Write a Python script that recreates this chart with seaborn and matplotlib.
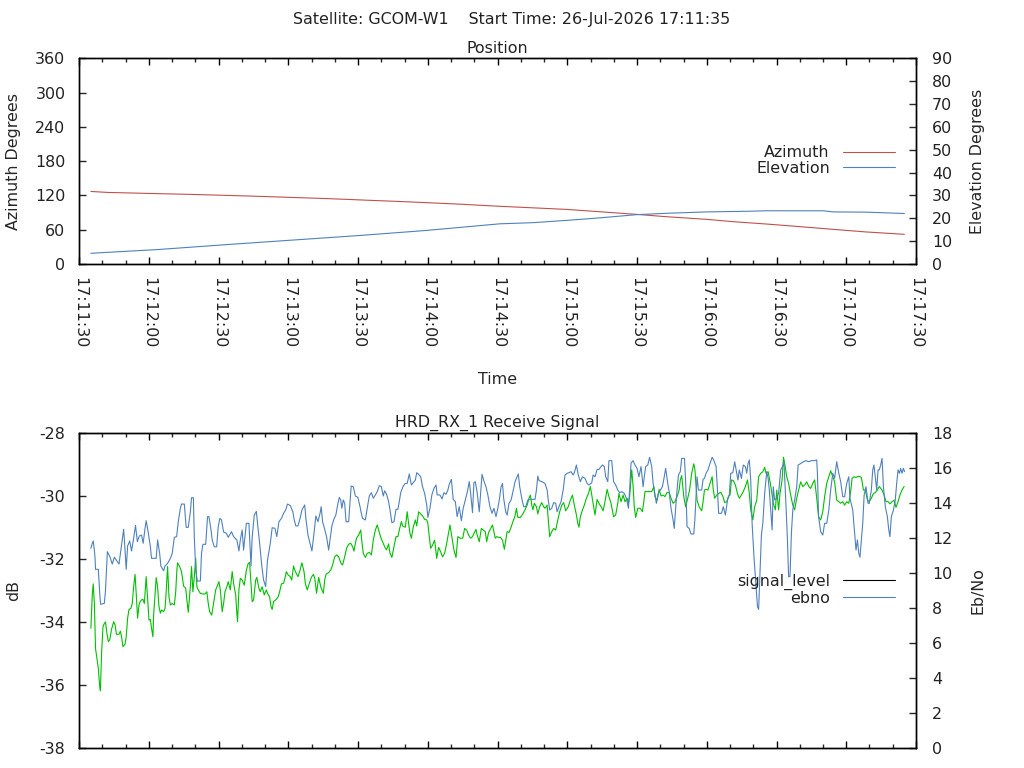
import pandas as pd
import matplotlib
matplotlib.use("Agg")
import matplotlib.pyplot as plt
import matplotlib.dates as mdates
from matplotlib.lines import Line2D
import seaborn as sns

# ---------------- data (seconds after 17:11:30) ----------------
az_sec = [5.0, 12.2, 30.4, 48.6, 64.4, 78.5, 91.7, 104.6, 115.5, 126.2,
          136.8, 147.3, 156.6, 165.5, 173.5, 181.7, 209.7, 224.0, 239.8, 252.7,
          269.9, 281.4, 295.7, 310.1, 324.4, 338.7, 355.0]
azimuth = [127.0, 125.3, 123.5, 121.8, 120.0, 118.3, 116.5, 114.8, 113.1, 111.3,
           109.6, 107.8, 106.1, 104.4, 102.6, 100.9, 95.6, 91.5, 86.9, 82.8,
           78.2, 74.1, 70.0, 65.4, 60.7, 56.1, 52.0]

el_sec = [5.0, 34.7, 63.4, 92.1, 120.8, 149.4, 181.0, 195.3, 209.7, 224.0,
          239.8, 252.7, 269.9, 288.6, 295.7, 320.1, 324.4, 338.7, 355.0]
elevation = [4.7, 6.4, 8.5, 10.5, 12.5, 14.7, 17.6, 18.1, 19.1, 20.2,
             21.6, 22.2, 22.8, 23.1, 23.3, 23.3, 22.8, 22.7, 22.1]

sig_sec = [
    5.0, 5.6, 6.0, 6.5, 7.0, 7.6, 8.2, 8.8, 9.1, 9.6,
    10.2, 10.8, 11.3, 11.9, 12.5, 13.1, 13.9, 14.8, 15.4, 16.0,
    17.1, 17.7, 18.2, 18.8, 19.7, 20.2, 20.8, 21.4, 22.2, 22.8,
    23.4, 24.0, 24.5, 25.1, 25.7, 26.2, 26.8, 27.4, 28.0, 28.5,
    28.8, 29.4, 30.0, 30.6, 31.1, 31.7, 32.0, 32.6, 33.1, 33.7,
    34.3, 34.9, 35.4, 36.3, 36.9, 37.4, 38.0, 38.6, 39.2, 40.0,
    40.9, 41.5, 42.0, 42.3, 43.2, 44.0, 44.9, 45.8, 46.3, 46.9,
    47.8, 48.3, 48.9, 49.5, 50.1, 50.6, 51.2, 52.1, 53.2, 54.1,
    54.9, 55.5, 56.1, 57.0, 57.8, 58.7, 59.5, 60.1, 60.7, 61.5,
    62.1, 62.7, 63.5, 64.1, 65.0, 65.8, 66.4, 67.3, 67.8, 68.1,
    68.7, 69.3, 70.1, 71.0, 71.9, 72.7, 73.3, 73.9, 74.4, 75.0,
    75.9, 76.4, 77.3, 77.9, 78.7, 79.6, 80.5, 81.0, 81.9, 82.5,
    83.0, 83.6, 84.5, 85.6, 86.2, 87.0, 87.9, 88.5, 89.1, 89.9,
    90.8, 91.4, 92.2, 92.5,
    93.0, 94.1, 95.0, 95.8, 96.7, 97.3, 98.1, 99.0, 99.8, 100.7,
    101.3, 102.1, 103.0, 103.9, 105.0, 105.6, 106.2, 107.3, 108.2, 109.0,
    109.9, 110.7, 111.6, 112.5, 113.3, 114.2, 115.0, 115.9, 116.8, 117.6,
    118.2, 118.8, 119.3, 120.2, 121.1, 121.6, 122.2, 123.1, 123.9, 124.8,
    125.7, 126.5, 127.4, 128.2, 128.8, 129.7, 130.5, 131.4, 132.2, 133.1,
    133.7, 134.5, 135.4, 136.3, 137.1, 137.7, 138.6, 139.1, 140.3, 141.1,
    141.7, 142.3, 142.9, 143.7, 144.6, 145.2, 146.0, 146.9, 147.7, 148.6,
    149.5, 150.0, 150.6, 151.2, 152.0, 152.9, 153.8, 154.6, 155.5, 156.3,
    157.2, 158.1, 158.6, 159.5, 160.3, 161.2, 162.1, 162.9, 163.8, 165.0,
    165.8, 166.7, 167.5, 168.4, 169.2, 169.8, 170.7, 171.2, 172.1, 173.0,
    173.8, 174.7, 175.3, 176.1, 177.0, 177.8, 178.4, 179.0, 179.6, 180.7,
    181.2, 182.1, 182.9, 183.5, 184.1, 184.9, 185.8, 186.6, 187.5, 188.1,
    188.7, 189.8, 191.0, 191.8, 192.7, 193.5, 194.1, 194.7, 195.2, 195.8,
    196.7, 197.3, 198.1, 199.0, 199.8, 200.4, 201.3, 201.8, 202.4, 203.3,
    204.1, 205.0, 205.9, 206.7, 207.6, 208.4, 209.3, 210.4, 211.3, 212.2,
    213.0, 213.9, 214.5, 215.0, 215.6, 216.5, 217.3, 218.2, 219.1, 219.9,
    220.8, 221.9, 222.8, 223.6, 224.5, 225.4, 226.2, 227.1, 227.9, 228.8,
    229.9, 230.8, 231.7, 232.2, 233.1, 234.0, 234.8, 235.7, 236.3, 236.8,
    237.7, 238.3, 238.8, 239.4, 240.3, 241.4, 242.3, 242.9, 243.4, 244.9,
    246.3, 247.2, 247.7, 248.6, 249.5, 250.3, 251.2, 252.0, 252.9, 253.8,
    254.6, 255.5, 256.3, 257.2, 258.1, 258.6, 259.2, 260.1, 260.9, 261.8,
    262.6, 263.5, 264.4, 264.9, 265.8, 266.7, 267.8, 268.4, 269.0,
    269.7, 270.5, 271.4, 272.3, 272.8, 273.4, 274.3, 275.1, 276.0, 276.9,
    277.7, 278.6, 279.4, 280.0, 280.6, 281.4, 282.3, 283.2, 284.0, 284.9,
    285.7, 286.6, 287.5, 288.3, 288.9, 289.8, 290.6, 291.5, 292.3, 293.2,
    294.1, 294.9, 295.5, 296.4, 297.2, 297.8, 298.6, 299.5, 300.1, 300.9,
    301.5, 302.4, 303.0, 303.5, 304.4, 305.2, 306.1, 307.0, 307.8, 308.7,
    309.5, 310.4, 311.3, 312.1, 313.0, 313.9, 314.7, 315.6, 316.4, 317.3,
    318.1, 319.0, 319.9, 320.7, 321.6, 322.5, 323.3, 324.2, 325.0, 325.9,
    326.8, 327.6, 328.5, 329.3, 330.2, 331.1, 331.9, 332.5, 333.4, 334.2,
    335.4, 336.5, 337.4, 338.2, 339.1, 339.9, 340.8, 341.7, 342.5, 343.4,
    344.2, 345.4, 346.3, 347.1, 348.0, 348.8, 349.7, 350.6, 351.4, 352.3,
    353.1, 354.0, 354.9,
]
signal_level = [
    -34.20, -33.14, -32.79, -33.41, -34.84, -35.15, -35.47, -36.05, -36.18, -34.99,
    -34.15, -34.04, -34.00, -34.36, -34.62, -34.57, -34.23, -33.99, -34.09, -34.39,
    -34.39, -34.29, -34.47, -34.78, -34.70, -34.47, -33.88, -33.60, -33.57, -33.41,
    -32.88, -32.49, -33.09, -33.88, -33.46, -33.35, -33.30, -33.28, -33.41, -32.88,
    -32.56, -33.25, -33.94, -33.92, -34.20, -34.47, -33.78, -33.14, -32.59, -32.88,
    -33.51, -33.72, -33.62, -33.67, -33.57, -33.04, -32.24, -33.20, -33.46, -33.41,
    -33.46, -33.04, -32.35, -32.12, -32.24, -32.40, -32.86, -32.93, -33.30, -33.69,
    -32.88, -32.24, -33.04, -32.56, -31.98, -32.88, -32.98, -33.09, -33.11, -33.11,
    -33.04, -33.41, -33.67, -33.78, -33.41, -32.98, -32.83, -32.72, -32.98, -33.67,
    -33.41, -33.04, -32.88, -32.72, -32.98, -32.40, -32.77, -33.14, -33.72, -33.99,
    -32.98, -32.61, -32.67, -32.83, -32.35, -32.14, -32.11, -32.77, -33.35, -33.30,
    -32.67, -32.58, -32.93, -33.04, -32.88, -33.14, -32.98, -33.09, -33.20, -33.51,
    -33.60, -33.35, -33.30, -33.20, -33.04, -32.79, -32.77, -32.61, -32.40, -32.51,
    -32.56, -32.67, -32.22, -32.30,
    -32.40, -32.56, -32.35, -32.12, -32.40, -32.79, -32.98, -32.77, -32.59, -32.49,
    -32.59, -33.09, -32.58, -32.88, -33.09, -32.67, -32.48, -32.43, -32.35, -32.19,
    -31.93, -31.87, -31.93, -32.12, -32.19, -31.93, -31.66, -31.53, -31.50, -31.61,
    -31.75, -31.50, -31.34, -31.24, -31.08, -31.45, -31.82, -31.95, -31.82, -31.79,
    -31.87, -31.40, -31.08, -30.92, -31.08, -31.31, -31.45, -31.61, -31.71, -31.52,
    -31.82, -31.95, -31.61, -31.29, -31.29, -31.08, -30.81, -30.95, -30.99, -30.50,
    -30.87, -31.19, -31.34, -30.99, -30.76, -30.95, -30.50, -30.57, -30.63, -30.74,
    -30.76, -30.87, -31.29, -31.66, -31.56, -31.40, -31.98, -31.63, -31.77, -31.93,
    -31.82, -31.50, -31.29, -30.92, -31.29, -31.71, -31.95, -31.29, -31.34, -31.34,
    -31.03, -31.08, -31.24, -31.34, -31.29, -31.19, -31.06, -31.24, -31.45, -31.03,
    -31.08, -31.13, -31.45, -31.16, -31.03, -30.92, -31.13, -31.34, -31.29, -31.32,
    -31.31, -31.40, -31.69, -31.40, -31.13, -31.16, -30.99, -30.81, -30.63, -30.39,
    -30.68, -30.68, -30.55, -30.44, -30.29, -30.07, -29.97, -30.29, -30.44, -30.23,
    -30.34, -30.57, -30.34, -30.21, -30.34, -30.39, -30.29, -30.76, -31.29, -31.13,
    -31.03, -31.08, -30.76, -30.50, -30.29, -30.21, -30.47, -30.34, -30.13, -29.97,
    -30.29, -30.60, -30.87, -30.99, -30.66, -30.44, -30.29, -30.07, -29.92, -29.70,
    -30.11, -30.60, -30.11, -30.23, -30.34, -30.47, -30.18, -29.79, -30.02, -30.23,
    -30.66, -30.60, -30.23, -29.92, -30.18, -29.97, -30.18, -30.07, -30.23, -30.02,
    -29.17, -29.70, -30.34, -30.68, -30.39, -30.39, -30.50, -30.18, -29.86, -29.86,
    -29.86, -29.70, -30.02, -30.13, -29.79, -30.00, -29.97, -30.02, -29.89, -29.89,
    -30.07, -30.23, -30.18, -30.02, -29.81, -29.49, -29.35, -30.02, -30.34, -30.07,
    -29.81, -29.28, -28.98, -29.17, -30.13, -30.34, -30.47, -30.18, -29.81,
    -29.79, -29.81, -29.60, -29.39, -29.81, -30.07, -29.97, -29.92, -29.88, -30.00,
    -30.21, -30.18, -30.00, -29.97, -29.49, -29.51, -29.65, -29.92, -30.07, -29.97,
    -29.86, -29.70, -29.49, -29.92, -30.44, -30.76, -30.34, -30.13, -29.39, -29.28,
    -29.23, -29.09, -29.28, -29.23, -29.54, -29.81, -30.23, -30.44, -29.81, -30.44,
    -29.92, -29.49, -28.77, -28.96, -29.39, -29.60, -29.97, -30.29, -30.44, -30.07,
    -29.81, -29.55, -29.70, -29.65, -29.55, -29.70, -29.76, -29.60, -29.49, -30.07,
    -30.66, -30.76, -30.50, -30.02, -29.60, -29.39, -29.20, -29.39, -29.55, -30.13,
    -30.18, -30.23, -30.18, -30.29, -30.18, -30.23, -29.86, -29.44, -29.39, -29.41,
    -29.37, -29.41, -29.81, -29.81, -30.13, -30.18, -30.07, -29.92, -29.89, -29.81,
    -29.70, -29.81, -29.97, -30.18, -30.18, -30.25, -30.18, -30.13, -30.36, -30.18,
    -29.97, -29.81, -29.70,
]

ebno_sec = [
    5.0, 5.6, 6.0, 6.5, 6.8, 7.0, 8.2, 8.9, 9.2, 10.8,
    11.3, 12.1, 13.2, 14.2, 15.1, 16.1, 17.1, 17.9, 18.5, 19.1,
    19.7, 20.2, 20.8, 21.7, 22.5, 23.4, 24.2, 25.0, 25.8, 26.8,
    27.5, 28.3, 28.8, 29.7, 30.6, 31.1, 33.1, 33.7, 34.6, 35.1,
    36.3, 36.9, 38.0, 39.2, 40.0, 40.9, 41.9, 42.6, 43.5, 44.0,
    45.2, 46.0, 46.9, 47.8, 48.3, 49.1, 49.5, 50.1, 50.8, 52.1,
    52.6, 53.2, 54.4, 55.2, 55.8, 56.7, 57.2, 58.1, 59.1, 59.8,
    60.5, 61.2, 62.1, 63.3, 64.1, 65.5, 66.4, 67.8, 68.7, 69.3,
    70.1, 70.7, 71.9, 73.0, 73.9, 74.4, 75.3, 76.2, 76.7, 77.6,
    78.5, 79.3, 80.2, 81.0, 82.2, 83.0, 84.2, 85.0, 85.9, 87.0,
    87.9, 88.8, 89.6, 90.8, 91.9, 92.5,
    93.2, 94.1, 95.0, 95.8, 97.0, 97.5, 98.4, 99.3, 100.1, 101.0,
    101.8, 102.7, 103.6, 104.1, 104.7, 105.6, 106.4, 107.3, 107.9, 108.7,
    109.6, 110.4, 111.3, 111.9, 112.5, 113.0, 113.6, 114.2, 114.8, 115.9,
    116.5, 117.0, 117.9, 118.8, 119.9, 120.8, 121.3, 121.9, 123.1, 123.9,
    124.8, 125.7, 126.5, 127.4, 128.2, 129.1, 130.0, 130.8, 131.4, 132.2,
    133.1, 133.7, 134.5, 135.4, 136.3, 137.1, 137.7, 138.3, 139.4, 140.3,
    141.1, 142.0, 142.9, 143.7, 144.6, 145.2, 146.0, 146.9, 147.7, 148.6,
    149.5, 150.0, 150.9, 151.7, 152.6, 153.5, 154.0, 155.2, 156.1, 156.9,
    157.8, 158.6, 159.2, 160.1, 160.9, 161.8, 162.6, 163.5, 164.4, 165.2,
    166.1, 167.0, 167.8, 168.4, 169.2, 169.8, 170.4, 171.2, 172.1, 172.7,
    173.3, 174.1, 175.0, 175.8, 176.7, 177.6, 178.4, 179.3, 180.1, 180.7,
    181.5, 182.1, 182.6, 183.5, 184.1, 184.9, 185.8, 186.6, 187.5, 188.4,
    188.9, 189.5, 190.4, 191.2, 192.1, 193.0, 193.8, 196.1, 196.7, 197.3,
    197.8, 199.0, 200.4, 201.3, 201.8, 202.4, 203.3, 204.1, 205.0, 205.6,
    206.4, 207.3, 208.2, 209.0, 209.9, 210.7, 211.6, 212.5, 213.0, 213.9,
    214.7, 215.6, 216.5, 217.6, 218.5, 219.3, 220.5, 221.1, 221.9, 222.8,
    223.6, 224.5, 225.1, 225.9, 226.5, 227.4, 227.9, 229.1, 229.9, 230.8,
    231.7, 232.5, 233.4, 234.5, 235.4, 236.3, 236.8, 237.4, 238.3, 239.1,
    240.0, 240.8, 241.7, 242.6, 243.1, 243.7, 244.6, 245.4, 246.3, 246.9,
    247.4, 248.3, 249.2, 250.0, 250.9, 251.7, 252.3, 253.2, 253.8, 254.6,
    255.5, 256.0, 256.6, 257.2, 257.8, 258.6, 259.2, 260.4, 260.9, 261.5,
    262.4, 263.2, 264.4, 264.9, 265.8, 266.4, 267.8, 268.4, 269.0,
    269.7, 270.5, 271.4, 272.3, 273.1, 274.0, 274.6, 275.1, 276.3, 277.1,
    278.0, 278.9, 279.7, 280.3, 281.2, 282.0, 282.6, 283.4, 284.0, 284.9,
    285.7, 286.6, 287.2, 287.7, 288.3, 288.9, 289.5, 290.3, 291.2, 291.8,
    292.3, 292.9, 293.5, 294.1, 294.9, 295.8, 296.4, 296.9, 297.5, 298.1,
    298.6, 299.2, 300.1, 300.9, 301.8, 302.7, 303.2, 304.1, 304.7, 305.2,
    305.8, 306.4, 307.0, 307.8, 308.7, 309.3, 310.1, 311.6, 312.7, 313.8,
    315.0, 316.4, 317.3, 317.6, 318.1, 319.0, 319.9, 320.7, 321.6, 322.5,
    323.3, 324.2, 325.0, 325.9, 326.8, 327.6, 328.5, 329.3, 330.2, 331.1,
    331.6, 332.8, 333.6, 334.2, 334.8, 335.4, 335.9, 336.5, 337.1, 337.7,
    338.5, 339.4, 339.9, 340.8, 341.4, 341.9, 342.5, 343.1, 343.7, 344.2,
    344.8, 345.4, 346.0, 346.8, 347.7, 348.3, 348.8, 349.4, 350.3, 351.1,
    351.7, 352.3, 352.9, 353.4, 354.0, 354.6, 355.1,
]
ebno = [
    11.41, 11.70, 11.83, 11.31, 10.84, 10.21, 10.21, 8.65, 8.21, 8.27,
    9.03, 11.22, 10.93, 10.51, 10.90, 10.70, 10.51, 11.31, 11.89, 12.50,
    11.31, 10.21, 11.54, 11.83, 11.26, 11.98, 12.72, 11.79, 12.11, 12.17,
    11.70, 12.55, 12.99, 12.30, 11.50, 10.84, 10.84, 11.89, 11.12, 10.40,
    10.13, 10.40, 10.55, 10.84, 11.12, 12.04, 12.08, 12.93, 13.70, 13.94,
    13.94, 12.61, 12.61, 13.50, 14.30, 14.30, 12.08, 10.17, 9.54, 9.54,
    11.12, 11.64, 11.64, 13.22, 13.22, 12.46, 11.89, 11.50, 11.50, 12.65,
    13.12, 13.03, 12.34, 12.27, 12.04, 12.36, 12.08, 11.89, 11.26, 11.89,
    12.46, 11.31, 12.84, 12.84, 10.40, 12.04, 13.31, 13.52, 12.84, 11.70,
    10.46, 9.60, 9.22, 10.74, 11.70, 12.59, 12.55, 12.08, 12.93, 13.12,
    13.41, 13.60, 13.94, 13.85, 13.50, 13.03,
    12.69, 12.69, 13.12, 13.60, 13.89, 13.12, 12.17, 11.70, 11.26, 12.27,
    13.26, 12.93, 13.41, 13.79, 12.93, 12.50, 12.08, 11.31, 11.89, 12.69,
    13.09, 13.31, 13.98, 14.32, 14.17, 13.70, 14.17, 13.98, 12.93, 12.93,
    14.08, 14.97, 14.93, 14.40, 14.32, 13.79, 13.45, 13.12, 13.03, 13.70,
    14.40, 14.59, 14.27, 14.46, 14.65, 14.99, 14.93, 14.40, 14.70, 14.51,
    14.08, 13.60, 12.88, 12.93, 13.64, 13.64, 14.08, 14.59, 14.97, 15.12,
    15.12, 15.66, 15.03, 15.16, 15.31, 15.73, 15.64, 15.50, 14.93, 14.55,
    13.89, 13.18, 13.70, 14.46, 14.84, 15.03, 14.46, 14.46, 14.23, 14.59,
    14.50, 14.74, 15.07, 15.35, 14.21, 14.08, 13.22, 13.79, 12.99, 13.70,
    14.17, 14.65, 15.22, 14.55, 13.45, 15.16, 15.22, 14.59, 13.50, 14.55,
    15.64, 15.26, 14.93, 14.46, 13.79, 13.41, 13.70, 13.22, 13.70, 14.17,
    14.93, 15.12, 14.27, 13.50, 13.31, 13.98, 14.17, 14.65, 15.22, 15.50,
    15.66, 14.93, 14.27, 13.79, 13.79, 14.17, 14.21, 14.21, 14.74, 15.54,
    15.28, 15.22, 15.12, 14.74, 14.17, 13.60, 13.70, 14.02, 13.98, 13.50,
    13.79, 14.08, 14.74, 15.60, 15.70, 15.73, 15.79, 15.60, 15.73, 16.17,
    15.60, 15.22, 15.50, 15.41, 15.12, 15.03, 15.16, 15.60, 15.50, 15.92,
    15.92, 16.08, 16.17, 16.08, 15.50, 15.22, 16.42, 16.42, 15.22, 15.03,
    14.74, 14.59, 14.65, 14.55, 14.27, 13.70, 14.74, 16.27, 16.42, 16.17,
    15.98, 15.50, 16.08, 14.93, 15.50, 16.08, 16.17, 16.61, 16.08, 15.12,
    14.74, 13.98, 14.55, 14.74, 14.93, 15.50, 15.98, 15.12, 14.65, 13.70,
    13.03, 12.55, 13.70, 14.74, 15.60, 15.79, 16.55, 16.55, 15.22, 12.65,
    12.55, 12.23, 12.23, 13.12, 15.50, 14.74, 14.74, 15.35, 15.41,
    15.70, 15.89, 16.27, 16.61, 16.42, 16.08, 14.74, 13.41, 13.41, 13.79,
    13.31, 14.17, 14.46, 15.70, 15.73, 16.36, 15.92, 15.31, 15.89, 15.41,
    16.17, 16.08, 15.70, 16.23, 16.46, 15.31, 12.84, 10.93, 9.22, 8.08,
    7.92, 9.98, 12.17, 12.84, 14.55, 15.79, 15.41, 14.74, 13.60, 12.46,
    14.93, 14.17, 14.27, 14.55, 15.89, 16.11, 16.36, 13.79, 11.89, 9.79,
    9.79, 12.27, 13.60, 14.17, 14.93, 16.17, 16.23, 16.36, 16.42, 16.36,
    16.42, 16.42, 16.46, 15.70, 13.22, 12.36, 12.17, 12.84, 12.84, 13.60,
    14.74, 15.70, 15.41, 16.36, 15.70, 15.22, 14.36, 14.36, 15.12, 15.50,
    14.27, 13.60, 12.27, 11.31, 11.89, 11.12, 10.90, 11.89, 12.84, 14.46,
    14.93, 13.98, 13.98, 14.74, 15.89, 16.17, 15.50, 14.74, 15.89, 15.89,
    16.17, 16.55, 14.93, 13.79, 13.22, 12.46, 12.08, 13.22, 13.60, 14.17,
    15.12, 15.89, 15.70, 15.98, 15.70, 15.98, 15.79,
]

RED = "#c0504d"
BLUE = "#4f81bd"
GREEN = "#00c000"

# ---------------- style ----------------
sns.set_style("white")
plt.rcParams["font.family"] = ["DejaVu Sans"]
plt.rcParams["font.size"] = 11.4
plt.rcParams["axes.unicode_minus"] = False
plt.rcParams["axes.linewidth"] = 1.0
plt.rcParams["axes.edgecolor"] = "black"
plt.rcParams["text.color"] = "#222222"

t0 = pd.Timestamp("2026-07-26 17:11:30")


def to_time(sec):
    return t0 + pd.to_timedelta(pd.Series(sec, dtype=float), unit="s")


pos_az = pd.DataFrame({"time": to_time(az_sec), "value": azimuth})
pos_el = pd.DataFrame({"time": to_time(el_sec), "value": elevation})
rx_sig = pd.DataFrame({"time": to_time(sig_sec), "value": signal_level})
rx_ebno = pd.DataFrame({"time": to_time(ebno_sec), "value": ebno})

fig = plt.figure(figsize=(10.24, 7.68), dpi=100)
ax1 = fig.add_axes([0.0774, 0.6562, 0.8171, 0.2679])
ax1b = ax1.twinx()
ax2 = fig.add_axes([0.0774, 0.026, 0.8171, 0.4102])
ax2b = ax2.twinx()

lw = 0.8
sns.lineplot(data=pos_az, x="time", y="value", ax=ax1, color=RED, lw=lw, estimator=None)
sns.lineplot(data=pos_el, x="time", y="value", ax=ax1b, color=BLUE, lw=lw, estimator=None)
sns.lineplot(data=rx_sig, x="time", y="value", ax=ax2, color=GREEN, lw=lw, estimator=None)
sns.lineplot(data=rx_ebno, x="time", y="value", ax=ax2b, color=BLUE, lw=lw, estimator=None)

xmin, xmax = t0, t0 + pd.Timedelta(seconds=360)
for ax in (ax1, ax2):
    ax.set_xlim(xmin, xmax)
    ax.xaxis.set_major_locator(mdates.SecondLocator(bysecond=[0, 30]))
    ax.xaxis.set_minor_locator(mdates.SecondLocator(bysecond=[0, 10, 20, 30, 40, 50]))
    ax.xaxis.set_major_formatter(mdates.DateFormatter("%H:%M:%S"))
    ax.tick_params(axis="x", which="major", direction="in", length=4.8, width=1,
                   top=True, bottom=True, colors="black", labelcolor="#222222")
    ax.tick_params(axis="x", which="minor", direction="in", length=3.0, width=1,
                   top=True, bottom=True)
    ax.tick_params(axis="y", which="both", direction="in", length=5, width=1,
                   left=True, right=False, pad=10, labelcolor="#222222")
for ax in (ax1b, ax2b):
    ax.tick_params(axis="y", which="both", direction="in", length=5, width=1,
                   left=False, right=True, pad=11.5, labelcolor="#222222")

ax1.tick_params(axis="x", labelrotation=270, pad=9)
ax2.tick_params(axis="x", labelbottom=False)

ax1.set_ylim(0, 360)
ax1.set_yticks(range(0, 361, 60))
ax1b.set_ylim(0, 90)
ax1b.set_yticks(range(0, 91, 10))
ax2.set_ylim(-38, -28)
ax2.set_yticks(range(-38, -27, 2))
ax2b.set_ylim(0, 18)
ax2b.set_yticks(range(0, 19, 2))

# labels
ax1.set_xlabel("Time", va="center")
ax1.xaxis.set_label_coords(0.5, -0.559)
ax1.set_ylabel("Azimuth Degrees", va="center")
ax1.yaxis.set_label_coords(-0.078, 0.497)
ax1b.set_ylabel("Elevation Degrees", va="center", rotation=90)
ax1b.yaxis.set_label_coords(1.074, 0.5)
ax2.set_xlabel("")
ax2.set_ylabel("dB", va="center")
ax2.yaxis.set_label_coords(-0.078, 0.5)
ax2b.set_ylabel("Eb/No", va="center", rotation=90)
ax2b.yaxis.set_label_coords(1.074, 0.5)

ax1.set_title("Position", pad=3.6, fontsize=11.4)
ax2.set_title("HRD_RX_1 Receive Signal", pad=4.6, fontsize=11.4)
fig.text(0.5, 1 - 24 / 768, "Satellite: GCOM-W1    Start Time: 26-Jul-2026 17:11:35",
         ha="center", va="baseline")

# legends (text first, sample line after)
leg_kw = dict(loc="center right", bbox_to_anchor=(0.975, 0.503), frameon=False,
              markerfirst=False, handlelength=3.3, handletextpad=0.82,
              labelspacing=0.05, borderpad=0, borderaxespad=0)
ax1b.legend([Line2D([], [], color=RED, lw=lw), Line2D([], [], color=BLUE, lw=lw)],
            ["Azimuth", "Elevation"], **leg_kw)
ax2b.legend([Line2D([], [], color="black", lw=lw), Line2D([], [], color=BLUE, lw=lw)],
            ["signal_level", "ebno"], **leg_kw)

fig.savefig("out.png", dpi=100, facecolor="white")
